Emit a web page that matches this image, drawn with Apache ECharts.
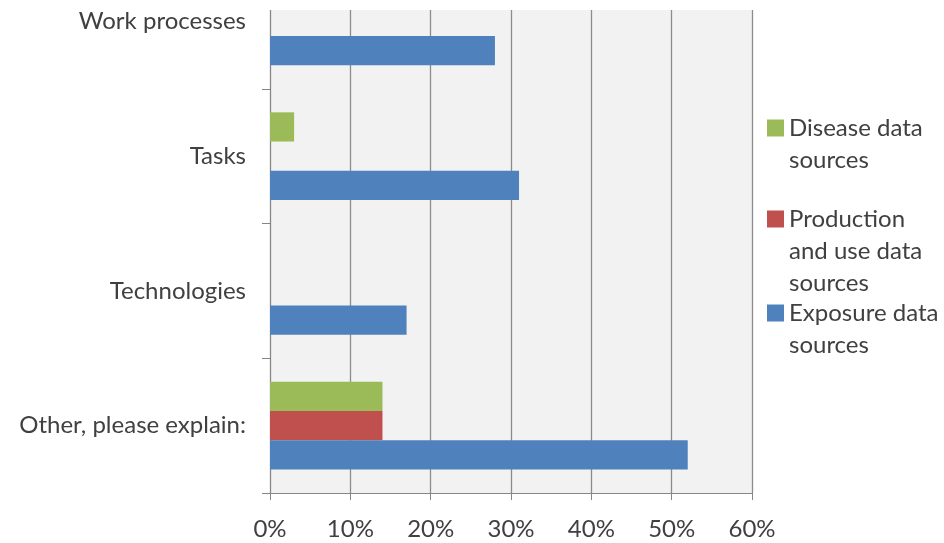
<!DOCTYPE html>
<html>
<head>
<meta charset="utf-8">
<script src="https://cdn.jsdelivr.net/npm/echarts@6/dist/echarts.min.js"></script>
<style>html,body{margin:0;padding:0;background:#fff}#c{width:944px;height:543px}</style>
</head>
<body>
<div id="c"></div>
<script>
// bottom-to-top category order
const categories = ['Other, please explain:', 'Technologies', 'Tasks', 'Work processes'];
const exposure = [52, 17, 31, 28];
const production = [14, 0, 0, 0];
const disease = [14, 0, 3, 0];
const xTicks = [0, 10, 20, 30, 40, 50, 60];

const FONT = 'Lato';
const TXT = '#404040';
const FS = 24;
const LH = 32;
const chart = echarts.init(document.getElementById('c'));

function legendAt(name, label, lines, top) {
  // prepend empty lines so the icon lines up with the first text line
  let pre = '';
  for (let i = 1; i < lines; i++) pre += '\n';
  return {
    left: 767, top: top, padding: 0, orient: 'vertical',
    itemWidth: 17, itemHeight: 17, icon: 'rect',
    selectedMode: false,
    data: [name],
    formatter: () => pre + label,
    textStyle: {fontFamily: FONT, fontSize: FS, color: TXT, lineHeight: LH}
  };
}

chart.setOption({
  animation: false,
  backgroundColor: '#ffffff',
  grid: {left: 270, right: 192, top: -46, bottom: 50, show: true, backgroundColor: '#f2f2f2', borderWidth: 0, outerBoundsMode: 'none', containLabel: false},
  xAxis: {
    type: 'value', min: xTicks[0], max: xTicks[xTicks.length - 1], interval: 10,
    axisLine: {show: true, lineStyle: {color: '#868686', width: 1}},
    axisTick: {show: true, length: 7, lineStyle: {color: '#868686'}},
    splitLine: {show: true, lineStyle: {color: '#8c8c8c', width: 1.3}},
    axisLabel: {formatter: '{value}%', fontFamily: FONT, fontSize: FS, color: TXT, margin: 24}
  },
  yAxis: {
    type: 'category', data: categories,
    axisLine: {show: true, lineStyle: {color: '#868686'}},
    axisTick: {show: true, length: 8, lineStyle: {color: '#868686'}},
    axisLabel: {fontFamily: FONT, fontSize: FS, color: TXT, margin: 24}
  },
  legend: [
    legendAt('Disease', 'Disease data\nsources', 2, 128 - 1.5 * LH),
    legendAt('Production', 'Production\nand use data\nsources', 3, 219 - 2.5 * LH),
    legendAt('Exposure', 'Exposure data\nsources', 2, 313 - 1.5 * LH)
  ],
  series: [
    {name: 'Disease', type: 'bar', data: disease, itemStyle: {color: '#9bbb59'}, barGap: '0%', barCategoryGap: '35%'},
    {name: 'Production', type: 'bar', data: production, itemStyle: {color: '#c0504d'}, barGap: '0%', barCategoryGap: '35%'},
    {name: 'Exposure', type: 'bar', data: exposure, itemStyle: {color: '#4f81bd'}, barGap: '0%', barCategoryGap: '35%'}
  ],
  graphic: [{type: 'rect', left: 255, top: 0, shape: {width: 510, height: 10}, style: {fill: '#ffffff'}, z: 100}]
});
</script>
</body>
</html>
